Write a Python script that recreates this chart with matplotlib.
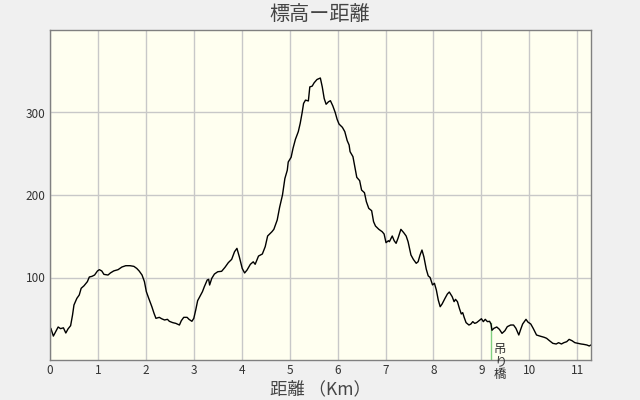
import matplotlib
matplotlib.use("Agg")
import matplotlib.pyplot as plt

plt.rcParams['font.family'] = ['Noto Sans CJK JP', 'DejaVu Sans']

distance_km = [0.02, 0.07, 0.11, 0.17, 0.22, 0.28, 0.33, 0.375, 0.43, 0.47, 0.5, 0.56, 0.61, 0.65, 0.71,
               0.78, 0.82, 0.875, 0.93, 0.99, 1.03, 1.08, 1.125, 1.21, 1.26, 1.33, 1.42, 1.5, 1.58, 1.67,
               1.75, 1.81, 1.86, 1.92, 1.97, 2.01, 2.06, 2.125, 2.17, 2.21, 2.28, 2.33, 2.39, 2.45, 2.49,
               2.56, 2.625, 2.70, 2.74, 2.79, 2.86, 2.90, 2.96, 3.0, 3.04, 3.08, 3.125, 3.18, 3.22, 3.28,
               3.31, 3.33, 3.375, 3.43, 3.5, 3.58, 3.65, 3.72, 3.79, 3.85, 3.90, 3.95, 4.01, 4.06, 4.11,
               4.18, 4.24, 4.28, 4.35, 4.43, 4.49, 4.54, 4.63, 4.67, 4.74, 4.79, 4.85, 4.90, 4.95, 4.97,
               5.03, 5.07, 5.12, 5.18, 5.22, 5.26, 5.29, 5.33, 5.39, 5.42, 5.47, 5.51, 5.57, 5.64, 5.68,
               5.72, 5.76, 5.81, 5.85, 5.90, 5.95, 5.99, 6.03, 6.10, 6.15, 6.20, 6.24, 6.26, 6.32, 6.36,
               6.40, 6.46, 6.50, 6.56, 6.60, 6.65, 6.71, 6.75, 6.79, 6.86, 6.93, 6.97, 7.01, 7.06, 7.08,
               7.14, 7.18, 7.22, 7.26, 7.32, 7.38, 7.43, 7.47, 7.53, 7.58, 7.64, 7.68, 7.72, 7.76, 7.80,
               7.85, 7.89, 7.93, 7.98, 8.02, 8.06, 8.10, 8.14, 8.18, 8.24, 8.29, 8.33, 8.39, 8.43, 8.46,
               8.50, 8.54, 8.58, 8.61, 8.64, 8.68, 8.74, 8.78, 8.82, 8.86, 8.90, 8.95, 9.0, 9.04, 9.08,
               9.125, 9.17, 9.20, 9.22, 9.26, 9.32, 9.375, 9.43, 9.49, 9.54, 9.61, 9.67, 9.72, 9.78, 9.82,
               9.86, 9.93, 9.97, 10.03, 10.08, 10.15, 10.22, 10.31, 10.36, 10.42, 10.49, 10.56, 10.61, 10.67, 10.72,
               10.78, 10.83, 10.89, 10.95, 11.01, 11.08, 11.13, 11.20, 11.25, 11.28]

elevation_m = [38, 29, 33.5, 40, 38, 39, 32.7, 37.6, 41.6, 54.5, 66.7, 74.7, 78.8, 86.9, 90,
               95, 100.6, 101.4, 103, 107.9, 109.5, 107.9, 103.8, 103, 105.5, 108, 109.5, 112.7, 114.3, 114.3,
               113.5, 111, 107.9, 103, 95, 82.8, 74.7, 64.6, 56.6, 50.5, 51.7, 50, 48.5, 49.3, 46.9,
               45.3, 44.4, 42.4, 47.7, 51.7, 51.7, 49.3, 46.9, 50.5, 60.6, 71.9, 76.8, 82.8, 88.9, 97,
               97.8, 90.9, 99, 104.2, 107, 107.5, 112.3, 118, 122, 131.3, 135.3, 125, 111, 105.5, 109,
               116, 119, 116, 126, 128.5, 137.4, 150.3, 155.5, 158.4, 169.7, 185, 200, 220, 230, 240,
               245.7, 256.6, 267.5, 276.8, 286.9, 299.8, 311, 315, 314, 331, 332, 336, 340, 341.8, 331,
               317, 310, 313, 314.3, 308, 300, 291.7, 286, 282, 276.8, 265.9, 260.6, 252.5, 246.5, 234.3,
               221.4, 217.4, 206, 202.8, 191.9, 183.8, 181, 167.7, 162.4, 158.4, 155.5, 152.7, 142.2, 144.6, 143.4,
               150.3, 144.6, 141.4, 147.5, 158.4, 154.3, 150.3, 143.4, 127.3, 122, 117.2, 119.2, 127.3, 133.3, 125,
               110, 102, 100, 91, 93, 84.8, 72.7, 64.6, 67.9, 74.7, 80, 82.4, 76.8, 70.7, 73.5,
               70.7, 62.7, 55.8, 57.4, 51.7, 45.3, 42.4, 43.6, 46.5, 44.4, 45.3, 47.7, 50, 46.5, 49.3,
               46.5, 46.9, 43.6, 36, 38.4, 40, 37.2, 32.3, 35.5, 40.4, 42.4, 42.4, 38.4, 30.3, 37.2,
               43.6, 49.3, 46, 43.6, 38.4, 30.3, 29, 27.5, 26.3, 23.4, 20.2, 19.4, 21, 19.4, 21,
               22.2, 25, 23.4, 21, 20.2, 19.4, 19, 18.2, 17, 18]

x_ticks = list(range(0, 12))
y_ticks = [100, 200, 300]

bridge_km = 9.2
bridge_elev = 45
bridge_label = "吊\nり\n橋"

fig = plt.figure(figsize=(6.4, 4.0), dpi=100, facecolor='#f0f0f0')
ax = fig.add_axes([50 / 640, 40 / 400, 540.7 / 640, 330 / 400])
ax.set_facecolor('#fffff0')

ax.set_xlim(0, 11.28)
ax.set_ylim(0, 400)
ax.set_xticks(x_ticks)
ax.set_xticklabels([str(t) for t in x_ticks])
ax.set_yticks(y_ticks)
ax.set_yticklabels([str(t) for t in y_ticks])
ax.grid(True, color='#c8c8c8', linewidth=1)
ax.set_axisbelow(True)
ax.tick_params(length=0, labelsize=8.5, colors='#333333', pad=3)
for s in ax.spines.values():
    s.set_color('#808080')
    s.set_linewidth(1)

ax.plot([bridge_km, bridge_km], [0, bridge_elev], color='#80d080', linewidth=1)
ax.plot(distance_km, elevation_m, color='black', linewidth=1)

ax.text(bridge_km + 0.19, 21, bridge_label, ha='center', va='top', fontsize=9,
        color='#333333', linespacing=0.95, clip_on=False)

fig.text(0.5, 1 - 15 / 400, "標高ー距離", ha='center', va='center', fontsize=14.5, color='#444444')
fig.text(0.5, 1 - 389 / 400, "距離 （Km）", ha='center', va='center', fontsize=12.5, color='#444444')

fig.savefig('out.png', dpi=100, facecolor=fig.get_facecolor())
